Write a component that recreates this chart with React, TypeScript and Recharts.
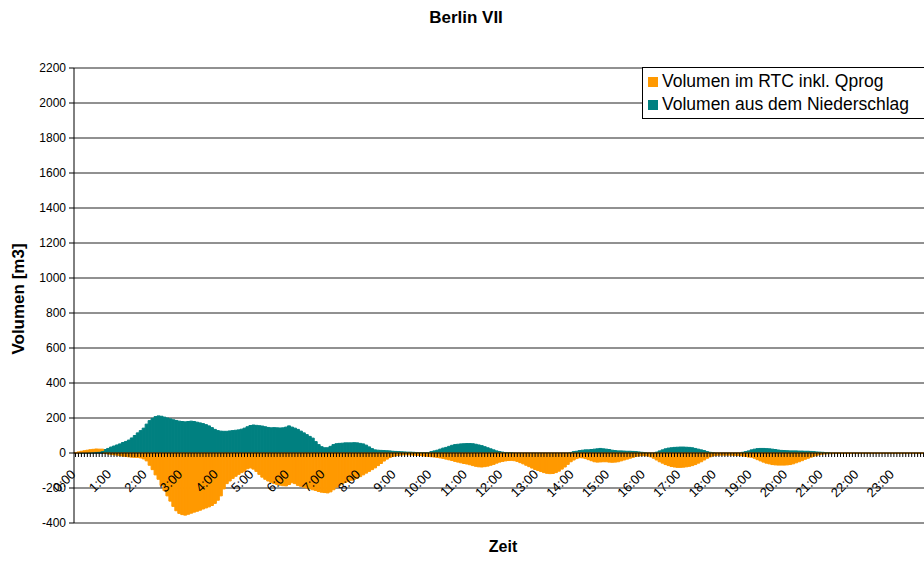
import React from 'react'
import {
  BarChart,
  Bar,
  XAxis,
  YAxis,
  CartesianGrid,
  ReferenceLine,
} from 'recharts'

const FONT = '"Liberation Sans", Arial, sans-serif'
const ORANGE = '#FF9900'
const TEAL = '#008080'

const hourLabels = [
  '0:00', '1:00', '2:00', '3:00', '4:00', '5:00', '6:00', '7:00',
  '8:00', '9:00', '10:00', '11:00', '12:00', '13:00', '14:00', '15:00',
  '16:00', '17:00', '18:00', '19:00', '20:00', '21:00', '22:00', '23:00',
]
const minuteLabels = ['00', '05', '10', '15', '20', '25', '30', '35', '40', '45', '50', '55']

const yTicks = [-400, -200, 0, 200, 400, 600, 800, 1000, 1200, 1400, 1600, 1800, 2000, 2200]

// Volumen aus dem Niederschlag, 5-min steps, one row per hour
const niederschlag = [
  0, 0, 2, 3, 4, 5, 6, 8, 10, 14, 20, 26,
  34, 40, 46, 52, 60, 66, 74, 86, 100, 115, 128, 142,
  165, 185, 198, 208, 212, 210, 205, 200, 195, 190, 186, 182,
  180, 178, 180, 182, 180, 176, 172, 168, 162, 155, 145, 135,
  128, 125, 124, 124, 126, 128, 130, 132, 136, 142, 150, 157,
  160, 158, 156, 154, 150, 146, 144, 145, 144, 143, 144, 148,
  155, 148, 142, 135, 125, 115, 105, 95, 85, 65, 48, 36,
  30, 30, 38, 48, 53, 55, 56, 58, 58, 58, 59, 58,
  55, 52, 45, 35, 25, 18, 16, 15, 14, 13, 12, 10,
  9, 8, 7, 6, 5, 5, 4, 3, 2, 2, 1, 1,
  8, 12, 16, 22, 28, 32, 38, 44, 48, 50, 52, 53,
  54, 54, 53, 50, 46, 42, 36, 30, 24, 18, 12, 8,
  5, 3, 2, 1, 0, 0, 0, 0, 0, 0, 0, 0,
  0, 0, 0, 0, 0, 0, 0, 0, 0, 0, 0, 3,
  8, 10, 14, 16, 18, 18, 20, 22, 24, 26, 24, 22,
  20, 16, 14, 12, 12, 11, 10, 10, 9, 8, 6, 4,
  2, 0, 0, 0, 5, 12, 18, 24, 28, 30, 32, 33,
  34, 34, 33, 32, 30, 26, 22, 18, 14, 8, 4, 2,
  0, 0, 0, 0, 0, 0, 0, 0, 0, 4, 8, 12,
  18, 22, 25, 26, 26, 25, 24, 22, 20, 17, 15, 14,
  13, 12, 12, 12, 11, 11, 10, 10, 9, 8, 6, 5,
  4, 2, 1, 0, 0, 0, 0, 0, 0, 0, 0, 0,
  0, 0, 0, 0, 0, 0, 0, 0, 0, 0, 0, 0,
  0, 0, 0, 0, 0, 0, 0, 0, 0, 0, 0, 0,
]

// Volumen im RTC inkl. Qprog
const rtc = [
  3, 6, 8, 10, 12, 14, 15, 15, 12, 8, -3, -6,
  -8, -10, -12, -15, -18, -20, -22, -24, -25, -25, -28, -34,
  -45, -70, -95, -125, -150, -185, -215, -245, -275, -305, -330, -345,
  -352, -355, -350, -344, -338, -333, -327, -320, -314, -308, -300, -288,
  -270, -245, -205, -175, -160, -145, -133, -122, -112, -104, -90, -85,
  -92, -105, -122, -138, -150, -160, -168, -175, -180, -184, -187, -188,
  -180, -170, -175, -185, -190, -195, -200, -205, -210, -214, -220, -224,
  -226, -228, -222, -210, -195, -185, -175, -168, -162, -156, -150, -144,
  -135, -125, -115, -105, -95, -85, -72, -60, -46, -35, -26, -20,
  -16, -13, -11, -10, -10, -11, -12, -13, -14, -16, -18, -20,
  -21, -23, -25, -28, -31, -35, -39, -43, -48, -52, -56, -60,
  -63, -67, -72, -76, -79, -80, -78, -75, -70, -65, -58, -52,
  -48, -45, -43, -42, -44, -48, -55, -62, -70, -78, -86, -94,
  -100, -106, -112, -116, -118, -117, -112, -104, -92, -80, -65, -50,
  -40, -32, -27, -28, -32, -38, -44, -50, -52, -51, -50, -50,
  -52, -53, -52, -50, -45, -40, -35, -30, -25, -20, -17, -15,
  -15, -17, -22, -30, -40, -50, -58, -66, -72, -77, -80, -82,
  -82, -81, -79, -76, -72, -66, -58, -50, -40, -30, -22, -16,
  -13, -12, -12, -12, -12, -12, -13, -14, -15, -17, -20, -23,
  -24, -30, -38, -45, -52, -58, -62, -66, -68, -69, -69, -69,
  -68, -66, -62, -56, -50, -44, -36, -30, -24, -18, -13, -8,
  -6, -5, -4, -4, -3, -3, -3, -3, -3, -3, -3, -3,
  -3, -3, -3, -3, -3, -3, -3, -3, -3, -3, -3, -3,
  -3, -3, -3, -3, -3, -3, -3, -3, -3, -3, -3, -3,
]

const times = hourLabels.flatMap((h) => minuteLabels.map((m) => h.replace(':00', ':' + m)))

const data = times.map((t, i) => ({ t, niederschlag: niederschlag[i], rtc: rtc[i] }))

const legendItems = [
  { label: 'Volumen im RTC inkl. Qprog', color: ORANGE },
  { label: 'Volumen aus dem Niederschlag', color: TEAL },
]

const WIDTH = 930
const HEIGHT = 561
const PLOT_TOP = 68
const X_AXIS_H = 38
const PLOT_H = HEIGHT - PLOT_TOP - X_AXIS_H
const Y_MIN = -400
const Y_MAX = 2200
const ZERO_Y = PLOT_TOP + (PLOT_H * Y_MAX) / (Y_MAX - Y_MIN)

const TimeTick = (props: any) => {
  const { x, payload } = props
  const label: string = payload.value
  const showLabel = label.endsWith(':00')
  const ly = ZERO_Y + 22
  return (
    <g>
      <line x1={x} x2={x} y1={ZERO_Y} y2={ZERO_Y + 4} stroke="#000" strokeWidth={1} />
      {showLabel && (
        <text
          x={x + 1}
          y={ly}
          transform={`rotate(-45, ${x + 1}, ${ly})`}
          textAnchor="end"
          fontSize={13}
          fontFamily={FONT}
          fill="#000"
        >
          {label}
        </text>
      )}
    </g>
  )
}

// legend box runs past the right edge, as in the original
const LegendBox = () => (
  <div
    style={{
      position: 'absolute',
      left: 642,
      top: 67,
      width: 400,
      boxSizing: 'border-box',
      borderTop: '1px solid #000',
      borderBottom: '1px solid #000',
      borderLeft: '1px solid #000',
      background: '#fff',
      padding: '2px 0 2px 5px',
      fontFamily: FONT,
      fontSize: 17.5,
      lineHeight: '23px',
      whiteSpace: 'nowrap',
      color: '#000',
      zIndex: 2,
    }}
  >
    {legendItems.map((item) => (
      <div key={item.label} style={{ display: 'flex', alignItems: 'center' }}>
        <span
          style={{
            display: 'inline-block',
            width: 10,
            height: 10,
            background: item.color,
            marginRight: 4,
          }}
        />
        {item.label}
      </div>
    ))}
  </div>
)

export default function App() {
  return (
    <div
      style={{
        position: 'fixed',
        left: 0,
        top: 0,
        width: 924,
        height: HEIGHT,
        overflow: 'hidden',
        background: '#fff',
        fontFamily: FONT,
      }}
    >
      <div
        style={{
          position: 'absolute',
          left: 466,
          top: 8,
          transform: 'translateX(-50%)',
          fontWeight: 'bold',
          fontSize: 17,
          whiteSpace: 'nowrap',
        }}
      >
        Berlin VII
      </div>
      <div
        style={{
          position: 'absolute',
          left: 19,
          top: 299,
          transform: 'translate(-50%, -50%) rotate(-90deg)',
          fontWeight: 'bold',
          fontSize: 17,
          whiteSpace: 'nowrap',
        }}
      >
        Volumen [m3]
      </div>
      <div
        style={{
          position: 'absolute',
          left: 503,
          top: 538,
          transform: 'translateX(-50%)',
          fontWeight: 'bold',
          fontSize: 16,
          whiteSpace: 'nowrap',
        }}
      >
        Zeit
      </div>
      <BarChart
        width={WIDTH}
        height={HEIGHT}
        data={data}
        stackOffset="sign"
        barCategoryGap={0}
        barGap={0}
        margin={{ top: PLOT_TOP, right: 2, bottom: 0, left: 0 }}
      >
        <CartesianGrid vertical={false} stroke="#222" strokeWidth={1} />
        <XAxis
          dataKey="t"
          interval={0}
          height={X_AXIS_H}
          axisLine={false}
          tickLine={false}
          tick={<TimeTick />}
        />
        <YAxis
          width={74}
          domain={[Y_MIN, Y_MAX]}
          ticks={yTicks}
          interval={0}
          axisLine={{ stroke: '#000' }}
          tickLine={{ stroke: '#000' }}
          tickSize={5}
          tickMargin={3}
          tick={{ fontSize: 12, fontFamily: FONT, fill: '#000' }}
        />
        <Bar
          dataKey="niederschlag"
          stackId="v"
          fill={TEAL}
          stroke={TEAL}
          strokeWidth={1}
          isAnimationActive={false}
        />
        <Bar
          dataKey="rtc"
          stackId="v"
          fill={ORANGE}
          stroke={ORANGE}
          strokeWidth={1}
          isAnimationActive={false}
        />
        <ReferenceLine y={0} stroke="#000" strokeWidth={1} />
      </BarChart>
      <LegendBox />
    </div>
  )
}
